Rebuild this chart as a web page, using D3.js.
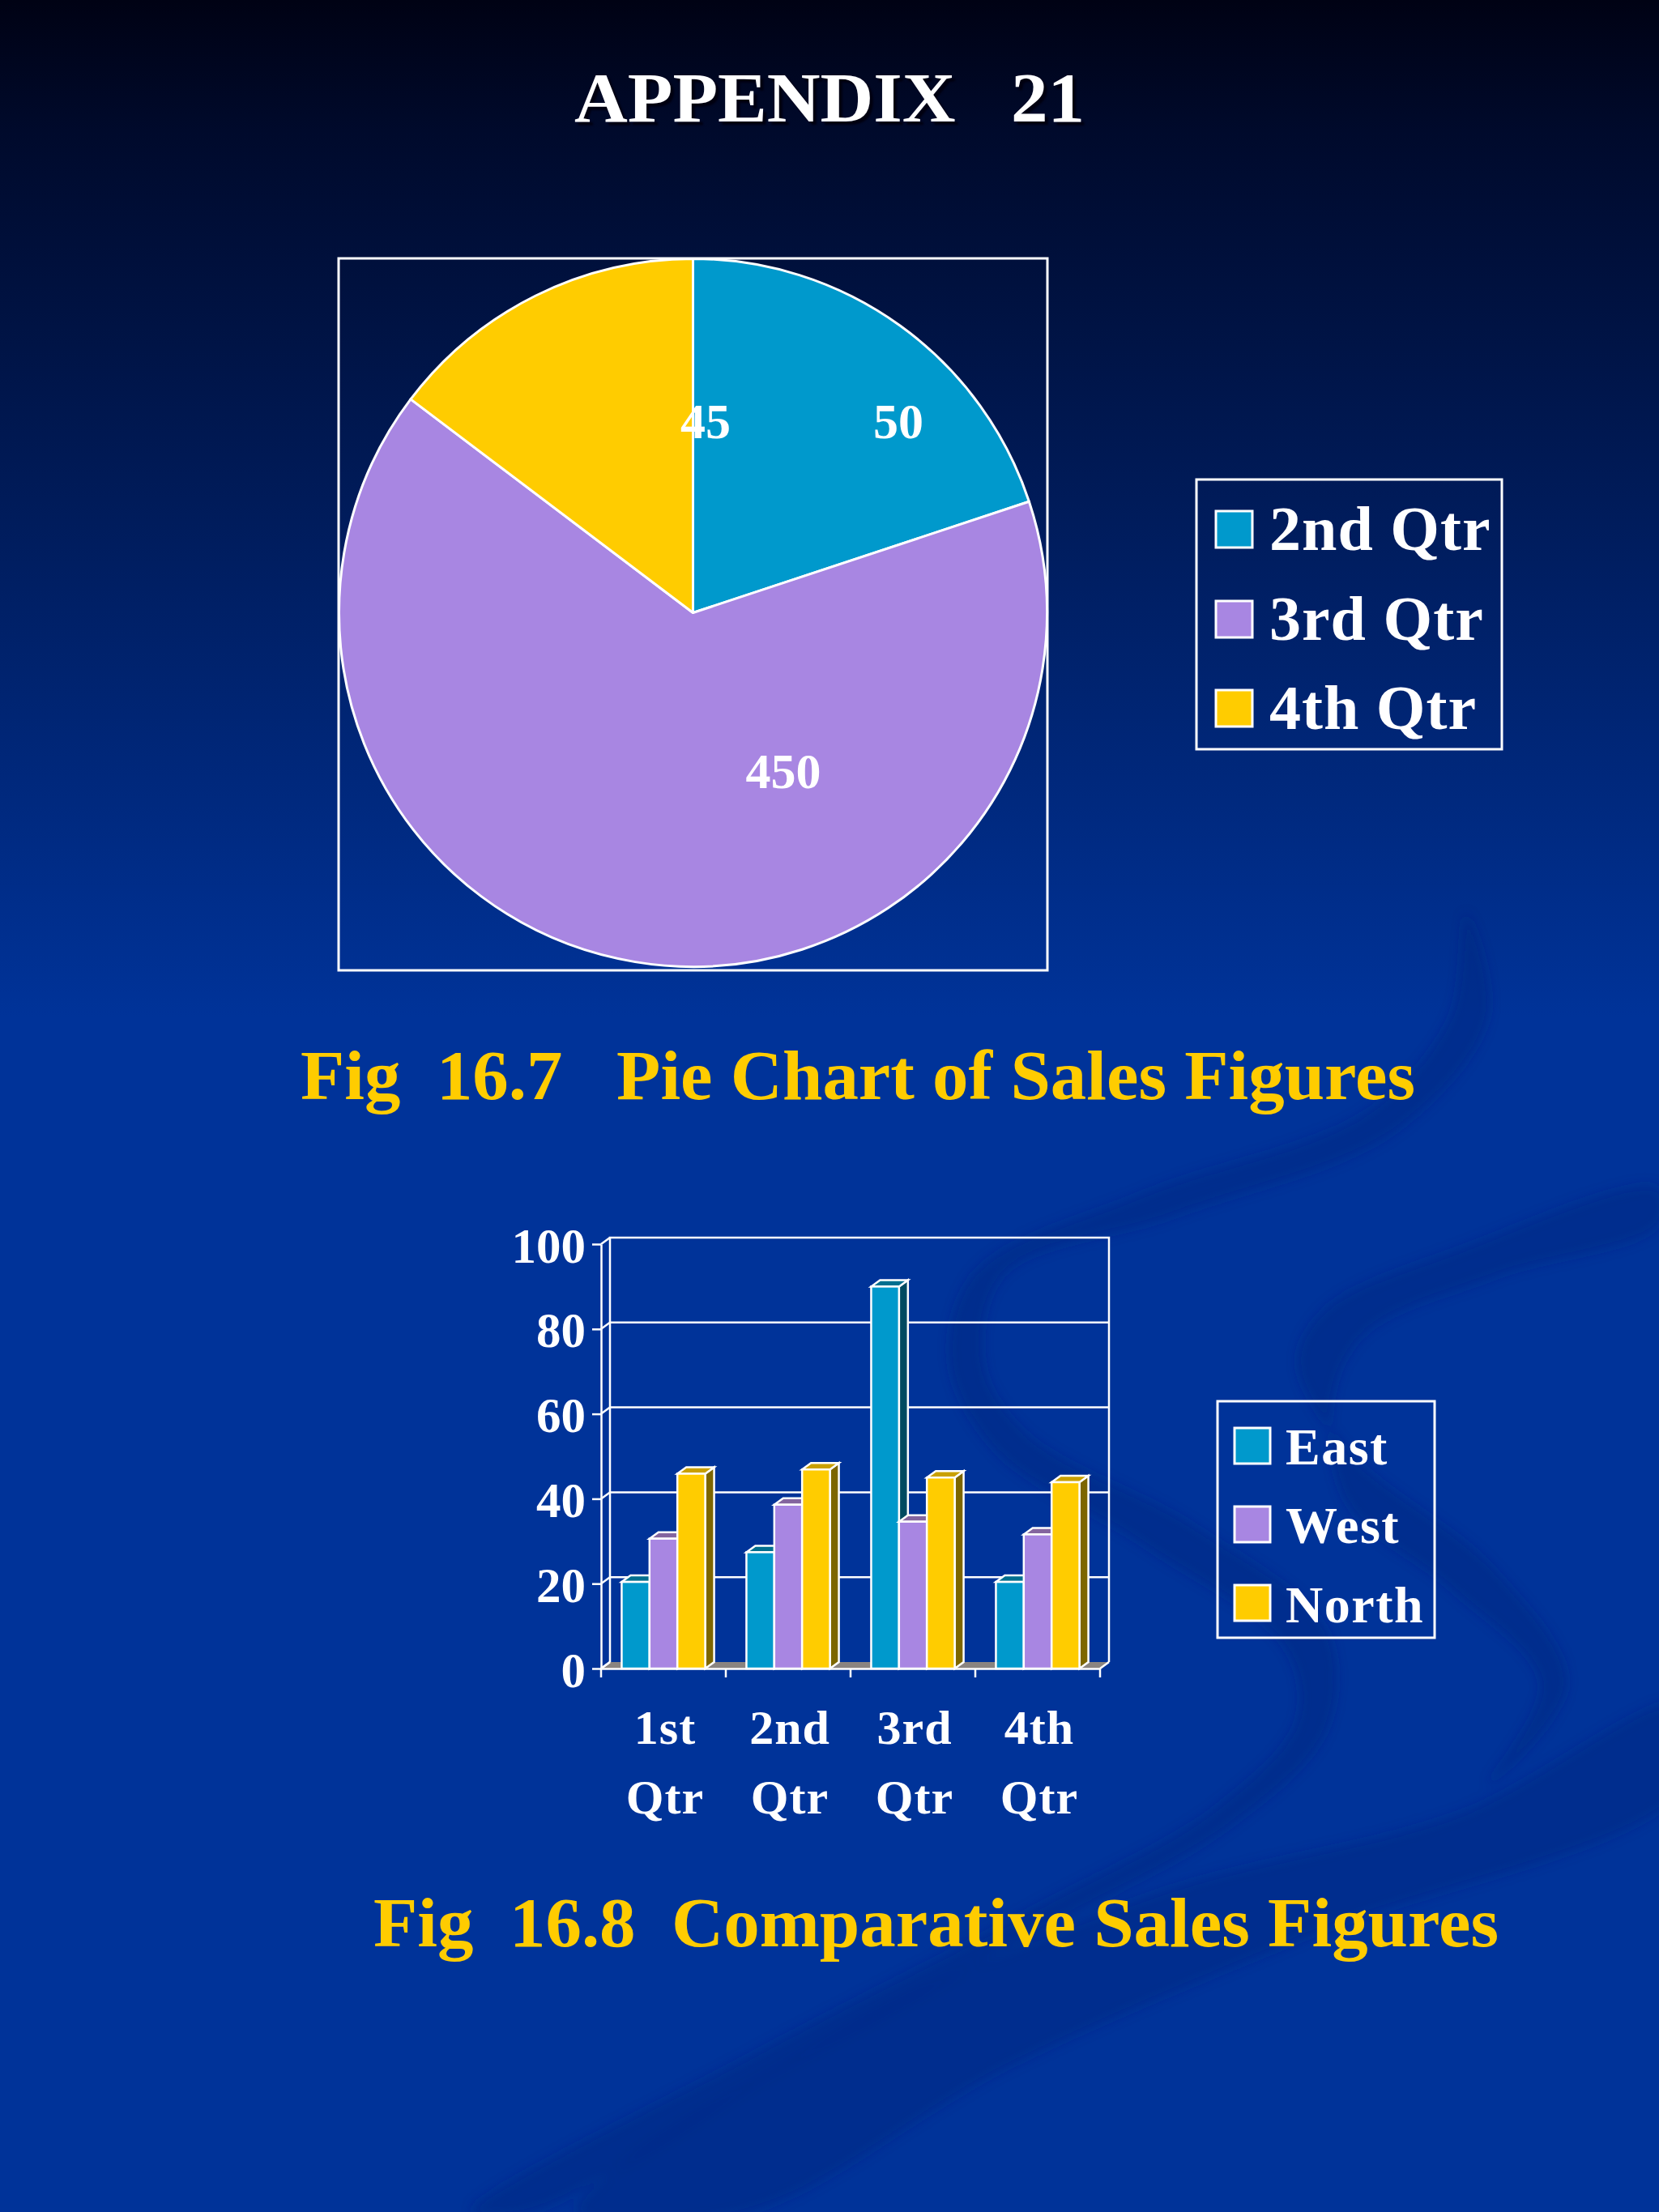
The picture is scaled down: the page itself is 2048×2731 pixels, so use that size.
<!DOCTYPE html>
<html lang="en">
  <head>
    <meta charset="utf-8">
    <title>Appendix 21</title>
    <script src="https://d3js.org/d3.v7.min.js"></script>
    <style>
      html, body { margin: 0; padding: 0; background: #003399; }
      svg { display: block; }
      text {
        font-family: "Liberation Serif", serif;
        font-weight: bold;
        white-space: pre;
      }
    </style>
  </head>
  <body>
    <script type="text/javascript">

    // pie chart: the printed labels do not match the slice sizes in the original,
    // so the slices use the sweep angles
    var pieCategories = ["2nd Qtr", "3rd Qtr", "4th Qtr"];
    var pieLabels = ["50", "450", "45"];
    var pieDegrees = [71.7, 235.4, 52.9];

    // bar chart
    var quarters = ["1st Qtr", "2nd Qtr", "3rd Qtr", "4th Qtr"];
    var seriesNames = ["East", "West", "North"];
    var east = [20.4, 27.4, 90, 20.4];
    var west = [30.6, 38.6, 34.6, 31.6];
    var north = [45.9, 46.9, 45, 43.9];
    var yTicks = [0, 20, 40, 60, 80, 100];

    var colors = ["#0099cc", "#a886e2", "#ffcc00"];
    var topColors = ["#006f8f", "#84659f", "#c9a000"];
    var sideColors = ["#004a60", "#5f4d80", "#7d6600"];

    var W = 2048, H = 2731;

    var svg = d3.select("body").append("svg")
      .attr("width", W)
      .attr("height", H);

    var defs = svg.append("defs");
    var grad = defs.append("linearGradient")
      .attr("id", "bg")
      .attr("x1", 0).attr("y1", 0).attr("x2", 0).attr("y2", 1);
    grad.append("stop").attr("offset", "0%").attr("stop-color", "#000214");
    grad.append("stop").attr("offset", "6%").attr("stop-color", "#000a2c");
    grad.append("stop").attr("offset", "46%").attr("stop-color", "#003399");
    grad.append("stop").attr("offset", "100%").attr("stop-color", "#003399");

    defs.append("filter").attr("id", "soft")
      .append("feGaussianBlur").attr("stdDeviation", 7);

    svg.append("rect")
      .attr("width", W)
      .attr("height", H)
      .attr("fill", "url(#bg)");

    var swooshes = [
      [[1310,75],[1340,190],[1220,320],[920,420],[690,490],[665,590],[720,670],[950,780],[1125,900],[1125,1010],[1000,1120],[750,1240],[400,1400],[60,1568],
       [-20,1568],[350,1390],[730,1220],[980,1100],[1085,1000],[1070,920],[880,800],[680,690],[620,590],[650,490],[880,395],[1180,300],[1290,190]],
      [[1568,390],[1300,460],[1120,530],[1085,590],[1150,690],[1350,830],[1445,960],[1340,1075],
       [1410,960],[1290,850],[1150,750],[1130,640],[1170,560],[1350,490],[1568,430]],
      [[1600,985],[1600,1080],[1100,1250],[700,1400],[350,1568],[120,1568],[500,1350],[900,1200],[1300,1110]]
    ];
    var swooshLine = d3.line().curve(d3.curveCatmullRomClosed);
    svg.append("g")
      .attr("transform", "translate(600,1050) scale(" + (1 / 1.083) + "," + (1 / 0.933) + ")")
      .attr("filter", "url(#soft)")
      .selectAll("path")
      .data(swooshes)
      .enter()
      .append("path")
      .attr("d", swooshLine)
      .attr("fill", "#00267f")
      .attr("opacity", 0.42);

    //titles
    function bigText(str, x, y, len, fill) {
      return svg.append("text")
        .attr("x", x)
        .attr("y", y)
        .attr("textLength", len)
        .attr("lengthAdjust", "spacingAndGlyphs")
        .attr("font-size", 86)
        .attr("fill", fill)
        .text(str);
    }
    bigText("APPENDIX   21", 709, 150, 630, "#ffffff")
      .style("filter", "drop-shadow(4px 4px 1px #000010)");
    bigText("Fig  16.7   Pie Chart of Sales Figures", 371, 1357, 1376, "#ffcc00");
    bigText("Fig  16.8  Comparative Sales Figures", 461, 2403, 1389, "#ffcc00");

    //pie
    var pieCx = 855.5, pieCy = 756.5, pieR = 437;

    svg.append("rect")
      .attr("x", 418)
      .attr("y", 319)
      .attr("width", 875)
      .attr("height", 879)
      .attr("fill", "none")
      .attr("stroke", "#ffffff")
      .attr("stroke-width", 3);

    var pie = d3.pie().sort(null);
    var arc = d3.arc().innerRadius(0).outerRadius(pieR);

    var pieG = svg.append("g")
      .attr("transform", "translate(" + pieCx + "," + pieCy + ")");

    pieG.selectAll("path")
      .data(pie(pieDegrees))
      .enter()
      .append("path")
      .attr("d", arc)
      .attr("fill", function(d, i) { return colors[i]; })
      .attr("stroke", "#ffffff")
      .attr("stroke-width", 3)
      .attr("stroke-linejoin", "round");

    // hand placed in the original, not at the slice centres
    var labelSpots = [[1109, 541], [967, 973], [871, 541]];
    svg.selectAll("text.pielabel")
      .data(pieLabels)
      .enter()
      .append("text")
      .attr("class", "pielabel")
      .attr("x", function(d, i) { return labelSpots[i][0]; })
      .attr("y", function(d, i) { return labelSpots[i][1]; })
      .attr("text-anchor", "middle")
      .attr("font-size", 62)
      .attr("fill", "#ffffff")
      .text(function(d) { return d; });

    function legend(names, box, swatchX, swatchSize, textX, swatchTops, baselines, fontSize, spacing) {
      svg.append("rect")
        .attr("x", box[0])
        .attr("y", box[1])
        .attr("width", box[2])
        .attr("height", box[3])
        .attr("fill", "none")
        .attr("stroke", "#ffffff")
        .attr("stroke-width", 3);
      var g = svg.append("g");
      g.selectAll("rect")
        .data(names)
        .enter()
        .append("rect")
        .attr("x", swatchX)
        .attr("y", function(d, i) { return swatchTops[i]; })
        .attr("width", swatchSize)
        .attr("height", swatchSize)
        .attr("fill", function(d, i) { return colors[i]; })
        .attr("stroke", "#ffffff")
        .attr("stroke-width", 3);
      g.selectAll("text")
        .data(names)
        .enter()
        .append("text")
        .attr("x", textX)
        .attr("y", function(d, i) { return baselines[i]; })
        .attr("font-size", fontSize)
        .attr("letter-spacing", spacing)
        .attr("fill", "#ffffff")
        .text(function(d) { return d; });
    }

    legend(pieCategories, [1477, 592, 377, 333], 1501, 45, 1567, [631, 742, 852], [679, 790, 900], 78, 1);

    //bars
    var depthX = 11, depthY = 8;
    var xLeft = 742, xRight = 1358, yBase = 2060, yTop = 1536;

    var yScale = d3.scaleLinear().domain([0, 100]).range([yBase, yTop]);
    var xScale = d3.scaleBand().domain(quarters).range([xLeft, xRight]);
    var seriesScale = d3.scaleBand()
      .domain(seriesNames)
      .range([0, xScale.bandwidth()])
      .paddingInner(0)
      .paddingOuter(0.74);

    var chart = svg.append("g")
      .attr("fill", "none")
      .attr("stroke", "#ffffff")
      .attr("stroke-width", 2.5);

    // floor, the back edge has no white line
    chart.append("path")
      .attr("d", "M" + xLeft + "," + yBase
        + "L" + (xLeft + depthX) + "," + (yBase - depthY)
        + "H" + (xRight + depthX)
        + "L" + xRight + "," + yBase + "Z")
      .attr("fill", "#8a8480")
      .attr("stroke", "none");
    chart.append("path")
      .attr("d", "M" + xLeft + "," + yBase + "L" + (xLeft + depthX) + "," + (yBase - depthY)
        + "M" + xRight + "," + yBase + "L" + (xRight + depthX) + "," + (yBase - depthY));

    // back wall and gridlines
    chart.append("path")
      .attr("d", "M" + (xLeft + depthX) + "," + (yBase - depthY)
        + "V" + (yTop - depthY)
        + "H" + (xRight + depthX)
        + "V" + (yBase - depthY));
    chart.selectAll("line.grid")
      .data(yTicks.slice(1, -1))
      .enter()
      .append("line")
      .attr("class", "grid")
      .attr("x1", xLeft + depthX)
      .attr("x2", xRight + depthX)
      .attr("y1", function(d) { return yScale(d) - depthY; })
      .attr("y2", function(d) { return yScale(d) - depthY; });

    // the little slanted links on the side wall
    chart.selectAll("line.link")
      .data(yTicks)
      .enter()
      .append("line")
      .attr("class", "link")
      .attr("x1", xLeft)
      .attr("x2", xLeft + depthX)
      .attr("y1", function(d) { return yScale(d); })
      .attr("y2", function(d) { return yScale(d) - depthY; });

    var allValues = [east, west, north];

    quarters.forEach(function(q, qi) {
      seriesNames.forEach(function(s, si) {
        var x0 = xScale(q) + seriesScale(s);
        var w = seriesScale.bandwidth();
        var yv = yScale(allValues[si][qi]);

        chart.append("path")
          .attr("d", "M" + (x0 + w) + "," + yBase
            + "L" + (x0 + w + depthX) + "," + (yBase - depthY)
            + "V" + (yv - depthY)
            + "L" + (x0 + w) + "," + yv + "Z")
          .attr("fill", sideColors[si]);
        chart.append("path")
          .attr("d", "M" + x0 + "," + yv
            + "L" + (x0 + depthX) + "," + (yv - depthY)
            + "H" + (x0 + w + depthX)
            + "L" + (x0 + w) + "," + yv + "Z")
          .attr("fill", topColors[si]);
        chart.append("rect")
          .attr("x", x0)
          .attr("y", yv)
          .attr("width", w)
          .attr("height", yBase - yv)
          .attr("fill", colors[si]);
      });
    });

    //y axis
    var yAxis = d3.axisLeft(yScale)
      .tickValues(yTicks)
      .tickSize(11)
      .tickSizeOuter(0)
      .tickPadding(8);
    var yG = svg.append("g")
      .attr("transform", "translate(" + xLeft + ",0)")
      .call(yAxis);
    yG.selectAll("path, line").attr("stroke", "#ffffff").attr("stroke-width", 2.5);
    yG.selectAll("text")
      .attr("font-family", null)
      .attr("font-size", 61)
      .attr("fill", "#ffffff")
      .attr("dy", 22);

    //x axis
    var xAxis = d3.axisBottom(xScale).tickValues([]).tickSizeOuter(0);
    var xG = svg.append("g")
      .attr("transform", "translate(0," + yBase + ")")
      .call(xAxis);
    xG.selectAll("path").attr("stroke", "#ffffff").attr("stroke-width", 2.5);
    xG.selectAll("line.edge")
      .data(quarters.map(function(q) { return xScale(q); }).concat([xRight]))
      .enter()
      .append("line")
      .attr("class", "edge")
      .attr("x1", function(d) { return d; })
      .attr("x2", function(d) { return d; })
      .attr("y1", 0)
      .attr("y2", 11)
      .attr("stroke", "#ffffff")
      .attr("stroke-width", 2.5);

    // two line category labels
    var catLabels = svg.append("g")
      .attr("text-anchor", "middle")
      .attr("font-size", 60)
      .attr("letter-spacing", 1)
      .attr("fill", "#ffffff");
    quarters.forEach(function(q) {
      var parts = q.split(" ");
      var cx = xScale(q) + xScale.bandwidth() / 2 + 2;
      catLabels.append("text").attr("x", cx).attr("y", 2153).text(parts[0]);
      catLabels.append("text").attr("x", cx).attr("y", 2239).text(parts[1]);
    });

    legend(seriesNames, [1503, 1730, 268, 292], 1524, 44, 1587, [1763, 1860, 1957], [1808, 1905, 2003], 64, 1.5);

    </script>
  </body>
</html>
